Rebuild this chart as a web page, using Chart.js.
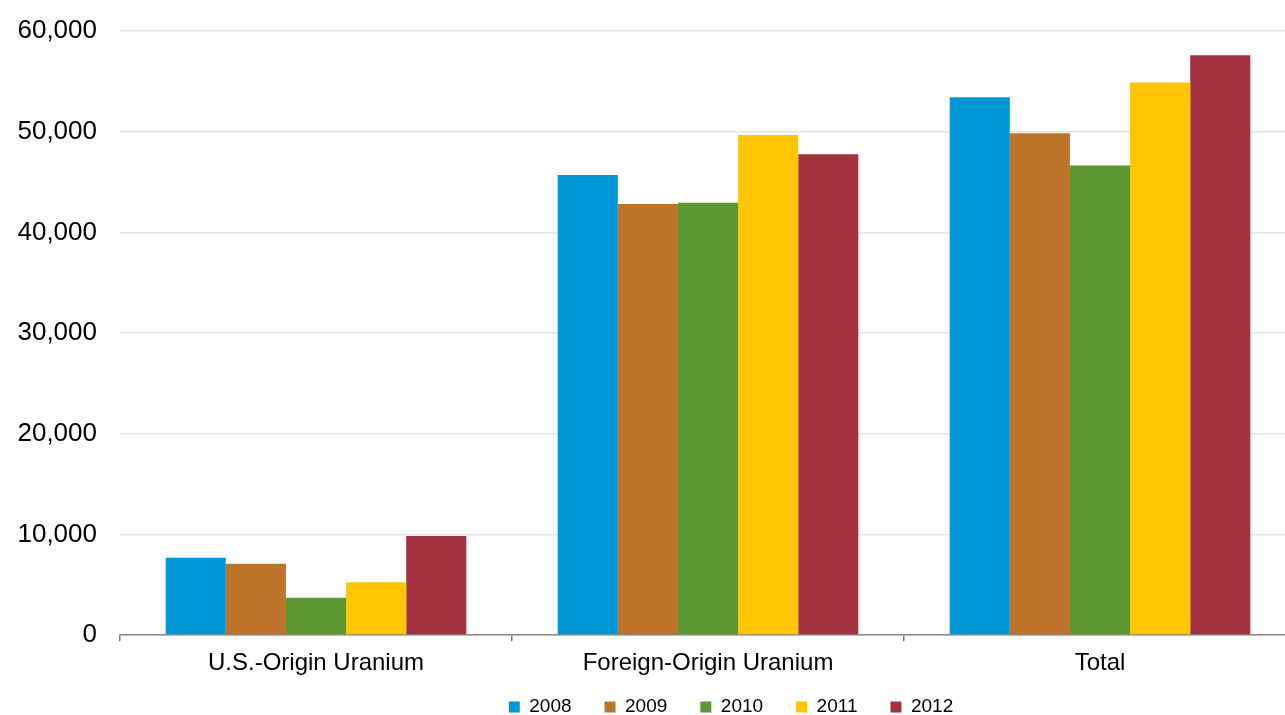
<!DOCTYPE html>
<html>
<head>
<meta charset="utf-8">
<script src="https://cdn.jsdelivr.net/npm/chart.js@4"></script>
<style>
  html, body { margin: 0; padding: 0; background: #fff; overflow: hidden; }
  #wrap { width: 1300px; height: 715px; }
</style>
</head>
<body>
<div id="wrap"><canvas id="uranium"></canvas></div>
<script>
const categories = ["U.S.-Origin Uranium", "Foreign-Origin Uranium", "Total"];
const years = ["2008", "2009", "2010", "2011", "2012"];
const colors = ["#0097d8", "#bd732a", "#5e9833", "#ffc600", "#a33341"];

// thousand pounds U3O8e
const v2008 = [7680, 45690, 53410];
const v2009 = [7080, 42810, 49840];
const v2010 = [3700, 42940, 46630];
const v2011 = [5230, 49670, 54880];
const v2012 = [9830, 47750, 57580];
const yTicks = [0, 10000, 20000, 30000, 40000, 50000, 60000];

const series = [v2008, v2009, v2010, v2011, v2012];
const font = "'Liberation Sans', Arial, sans-serif";

// move the legend row to sit under the plot, like the original
const legendPlace = {
  id: "legendPlace",
  afterLayout(chart) {
    const lg = chart.legend;
    const pad = lg.options.labels.padding;
    const size = lg.options.labels.font.size;
    const w = lg.right - lg.left;
    const cx = 731;
    lg.left = cx - w / 2;
    lg.right = cx + w / 2;
    lg.top = 707 - size / 2 - pad;
    lg.bottom = chart.height;
  }
};

new Chart(document.getElementById("uranium"), {
  type: "bar",
  data: {
    labels: categories,
    datasets: years.map((y, i) => ({
      label: y,
      data: series[i],
      backgroundColor: colors[i],
      borderWidth: 0,
      categoryPercentage: 0.767,
      barPercentage: 1.0,
    })),
  },
  options: {
    responsive: true,
    maintainAspectRatio: false,
    animation: false,
    layout: { padding: { top: 31, right: 4, left: 0, bottom: 0 } },
    plugins: {
      tooltip: { enabled: false },
      legend: {
        position: "bottom",
        maxHeight: 37,
        labels: {
          boxWidth: 11,
          boxHeight: 11,
          padding: 33,
          color: "#000",
          font: { family: font, size: 19 },
        },
      },
    },
    scales: {
      x: {
        grid: {
          display: true,
          drawOnChartArea: false,
          drawTicks: true,
          tickLength: 6,
          color: "#777",
          lineWidth: 1.5,
        },
        border: { color: "#888", width: 1.5 },
        ticks: {
          padding: 8,
          color: "#000",
          font: { family: font, size: 24 },
        },
        afterFit(scale) { scale.height = 43; },
      },
      y: {
        min: 0,
        max: 60000,
        afterBuildTicks(scale) {
          scale.ticks = yTicks.map(v => ({ value: v }));
        },
        grid: { color: "#e4e4e4", lineWidth: 1.5, drawTicks: false },
        border: { display: false },
        ticks: {
          padding: 23,
          color: "#000",
          font: { family: font, size: 26 },
          callback: v => v.toLocaleString("en-US"),
        },
        afterFit(scale) {
          scale.width = 120;
          scale.paddingTop = 0;
          scale.paddingBottom = 0;
        },
      },
    },
  },
  plugins: [legendPlace],
});
</script>
</body>
</html>
